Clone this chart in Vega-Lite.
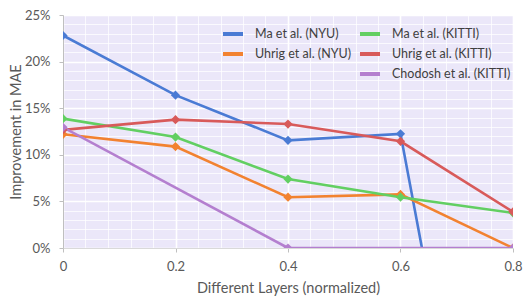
{
  "$schema": "https://vega.github.io/schema/vega-lite/v6.json",
  "width": 450,
  "height": 233,
  "autosize": {"type": "none"},
  "padding": {"left": 63, "top": 15, "right": 10, "bottom": 48},
  "background": "white",
  "config": {
    "font": "Lato",
    "view": {"fill": "#ebe7f9", "stroke": null}
  },
  "data": {
    "values": [
      {"layer": 0.0, "imp": 0.228, "method": "Ma et al. (NYU)"},
      {"layer": 0.2, "imp": 0.164, "method": "Ma et al. (NYU)"},
      {"layer": 0.4, "imp": 0.1155, "method": "Ma et al. (NYU)"},
      {"layer": 0.6, "imp": 0.1225, "method": "Ma et al. (NYU)"},
      {"layer": 0.8, "imp": -0.52, "method": "Ma et al. (NYU)"},
      {"layer": 0.0, "imp": 0.122, "method": "Uhrig et al. (NYU)"},
      {"layer": 0.2, "imp": 0.1088, "method": "Uhrig et al. (NYU)"},
      {"layer": 0.4, "imp": 0.0545, "method": "Uhrig et al. (NYU)"},
      {"layer": 0.6, "imp": 0.0575, "method": "Uhrig et al. (NYU)"},
      {"layer": 0.8, "imp": 0.0, "method": "Uhrig et al. (NYU)"},
      {"layer": 0.0, "imp": 0.1388, "method": "Ma et al. (KITTI)"},
      {"layer": 0.2, "imp": 0.119, "method": "Ma et al. (KITTI)"},
      {"layer": 0.4, "imp": 0.074, "method": "Ma et al. (KITTI)"},
      {"layer": 0.6, "imp": 0.0545, "method": "Ma et al. (KITTI)"},
      {"layer": 0.8, "imp": 0.0377, "method": "Ma et al. (KITTI)"},
      {"layer": 0.0, "imp": 0.1267, "method": "Uhrig et al. (KITTI)"},
      {"layer": 0.2, "imp": 0.1377, "method": "Uhrig et al. (KITTI)"},
      {"layer": 0.4, "imp": 0.133, "method": "Uhrig et al. (KITTI)"},
      {"layer": 0.6, "imp": 0.1145, "method": "Uhrig et al. (KITTI)"},
      {"layer": 0.8, "imp": 0.0388, "method": "Uhrig et al. (KITTI)"},
      {"layer": 0.0, "imp": 0.1295, "method": "Chodosh et al. (KITTI)"},
      {"layer": 0.4, "imp": 0.0, "method": "Chodosh et al. (KITTI)"},
      {"layer": 0.8, "imp": 0.0, "method": "Chodosh et al. (KITTI)"}
    ]
  },
  "mark": {
    "type": "line",
    "clip": true,
    "strokeWidth": 2.6,
    "point": {"shape": "diamond", "size": 85, "filled": true, "clip": true}
  },
  "encoding": {
    "x": {
      "field": "layer",
      "type": "quantitative",
      "scale": {"domain": [0, 0.8], "nice": false, "zero": false},
      "axis": {
        "title": "Different Layers (normalized)",
        "titleFont": "Lato",
        "titleFontSize": 14.5,
        "titleFontWeight": "normal",
        "titleColor": "#595959",
        "titlePadding": 8,
        "values": [0, 0.04, 0.08, 0.12, 0.16, 0.2, 0.24, 0.28, 0.32, 0.36, 0.4, 0.44, 0.48, 0.52, 0.56, 0.6, 0.64, 0.68, 0.72, 0.76, 0.8],
        "format": ".1~f",
        "labelExpr": "round(datum.value*25) % 5 == 0 ? datum.label : ''",
        "labelFontSize": 13,
        "labelColor": "#595959",
        "labelPadding": 8,
        "labelFlush": false,
        "domainColor": "#d9d9d9",
        "tickColor": "#bfbfbf",
        "tickSize": 4,
        "tickOpacity": {"condition": {"test": "round(datum.value*25) % 5 == 0", "value": 1}, "value": 0},
        "gridColor": "white",
        "gridWidth": {"condition": {"test": "round(datum.value*25) % 5 == 0", "value": 1.6}, "value": 1},
        "gridOpacity": {"condition": {"test": "round(datum.value*25) % 5 == 0", "value": 1}, "value": 0.75}
      }
    },
    "y": {
      "field": "imp",
      "type": "quantitative",
      "scale": {"domain": [0, 0.25], "nice": false, "zero": false},
      "axis": {
        "title": "Improvement in MAE",
        "titleFont": "Lato",
        "titleFontSize": 14.5,
        "titleFontWeight": "normal",
        "titleColor": "#595959",
        "titleX": -47,
        "titleBaseline": "middle",
        "values": [0, 0.01, 0.02, 0.03, 0.04, 0.05, 0.06, 0.07, 0.08, 0.09, 0.1, 0.11, 0.12, 0.13, 0.14, 0.15, 0.16, 0.17, 0.18, 0.19, 0.2, 0.21, 0.22, 0.23, 0.24, 0.25],
        "format": ".0%",
        "labelExpr": "round(datum.value*100) % 5 == 0 ? datum.label : ''",
        "labelFontSize": 13,
        "labelColor": "#595959",
        "labelPadding": 9,
        "labelFlush": false,
        "domainColor": "#bfbfbf",
        "tickColor": "#bfbfbf",
        "tickSize": 4,
        "tickOpacity": {"condition": {"test": "round(datum.value*100) % 5 == 0", "value": 1}, "value": 0},
        "gridColor": "white",
        "gridWidth": {"condition": {"test": "round(datum.value*100) % 5 == 0", "value": 1.6}, "value": 1},
        "gridOpacity": {"condition": {"test": "round(datum.value*100) % 5 == 0", "value": 1}, "value": 0.75}
      }
    },
    "color": {
      "field": "method",
      "type": "nominal",
      "scale": {
        "domain": ["Ma et al. (NYU)", "Uhrig et al. (NYU)", " ", "Ma et al. (KITTI)", "Uhrig et al. (KITTI)", "Chodosh et al. (KITTI)"],
        "range": ["#4a7bd4", "#f28230", "transparent", "#62cf62", "#d85a5a", "#b47fcf"]
      },
      "legend": {
        "title": null,
        "orient": "none",
        "legendX": 158,
        "legendY": 7,
        "columns": 2,
        "columnPadding": 0,
        "rowPadding": 0,
        "symbolType": "stroke",
        "symbolSize": 400,
        "symbolStrokeWidth": 4,
        "labelFont": "Lato",
        "labelFontSize": 12.5,
        "labelColor": "#404040",
        "labelOffset": 10,
        "labelLimit": 300
      }
    }
  }
}
